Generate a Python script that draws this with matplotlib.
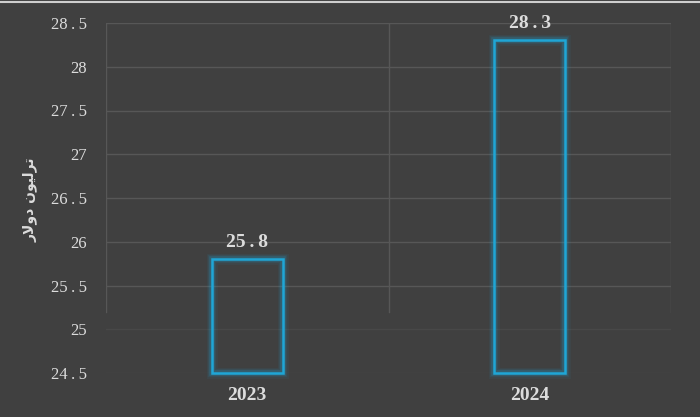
import numpy as np
import matplotlib.pyplot as plt
from matplotlib.patches import Rectangle

years = ['2023', '2024']
values = [25.8, 28.3]
y_ticks = [24.5, 25, 25.5, 26, 26.5, 27, 27.5, 28, 28.5]

BG = '#404040'
GRID = '#575757'
TXT = '#dcdcdc'
EDGE = '#1fa6d6'

# "ترليون دولار" pre-shaped (presentation forms, visual order)
ylabel = '\uFEAD\uFEFB\uFEED\uFEA9 \uFEE5\uFEEE\uFEF4\uFEDF\uFEAE\uFE97'


def fmt(v):
    s = f'{v:g}'
    return s.replace('.', '\u2009.\u2009')


fig = plt.figure(figsize=(7, 4.17), dpi=100, facecolor=BG)
ax = fig.add_axes([106 / 700, 1 - 373 / 417, 565 / 700, 350 / 417])
ax.set_facecolor(BG)

ax.set_xlim(-0.5, len(years) - 0.5)
ax.set_ylim(y_ticks[0], y_ticks[-1])
for s in ax.spines.values():
    s.set_visible(False)

for t in y_ticks:
    # lowest gridlines fade out in the original
    a = 1.0 if t >= 25.5 else 0.35
    ax.axhline(t, color=GRID, lw=1, alpha=a, zorder=0)
for b in np.arange(-0.5, len(years), 1.0):
    ax.plot([b, b], [25.2, y_ticks[-1]], color=GRID, lw=1, zorder=0)

width = 0.25
base = y_ticks[0]
for i, v in enumerate(values):
    # glow
    for lw, a in [(8, 0.06), (6, 0.1), (4, 0.2)]:
        ax.add_patch(Rectangle((i - width / 2, base), width, v - base, fill=False,
                               edgecolor=EDGE, lw=lw, alpha=a, zorder=2, clip_on=False))
    ax.add_patch(Rectangle((i - width / 2, base), width, v - base, fill=False,
                           edgecolor=EDGE, lw=1.8, zorder=3, clip_on=False))
    ax.annotate(fmt(v), (i, v), xytext=(0, 6), textcoords='offset points',
                ha='center', va='bottom', fontsize=14, fontweight='bold',
                family='Liberation Serif', color=TXT)

ax.set_yticks(y_ticks)
ax.set_yticklabels([fmt(t) for t in y_ticks], family='Liberation Serif',
                   fontsize=12, color=TXT)
ax.set_xticks(range(len(years)))
ax.set_xticklabels(years, family='Liberation Serif', fontsize=14,
                   fontweight='bold', color=TXT)
ax.tick_params(axis='y', length=0, pad=14)
ax.tick_params(axis='x', length=0, pad=10)

fig.text(30 / 700, 1 - 200 / 417, ylabel, rotation=90, ha='center', va='center',
         family='DejaVu Sans', fontsize=10, fontweight='bold', color=TXT)

# light frame line along the top edge, as in the original
fig.add_artist(plt.Line2D([0, 1], [0.996, 0.996], transform=fig.transFigure,
                          color='#cfcfcf', lw=1.5))

fig.savefig('out.png', dpi=100, facecolor=BG)
